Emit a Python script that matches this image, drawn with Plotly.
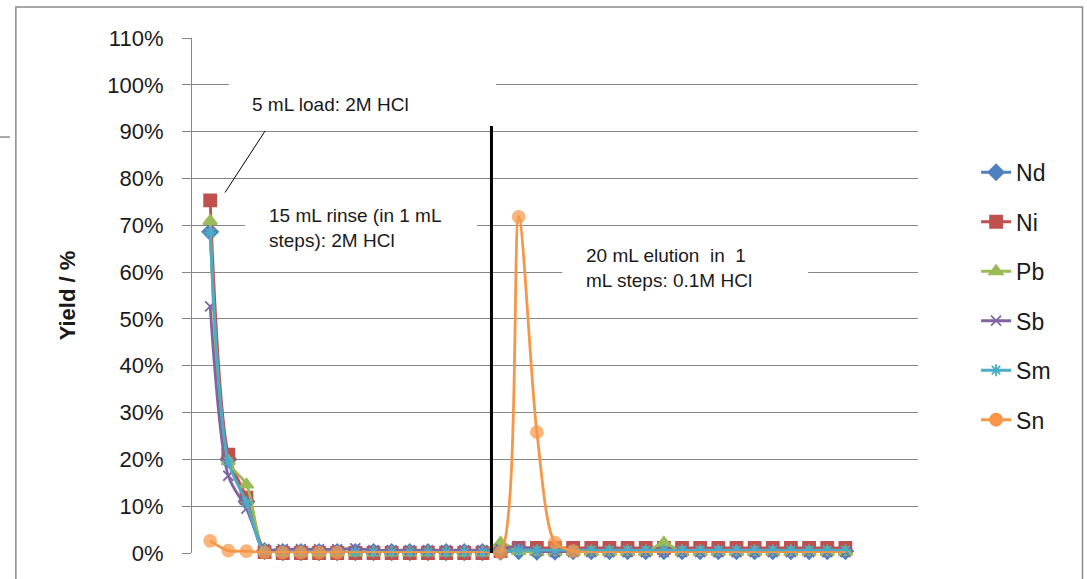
import plotly.graph_objects as go

# Fraction collected: 1 = load, 2-16 = rinse steps, 17-36 = elution steps
fractions = list(range(1, 37))

nd = [0.686, 0.200, 0.110, 0.004, 0.002, 0.002, 0.002, 0.002, 0.002, 0.002,
      0.002, 0.002, 0.002, 0.002, 0.002, 0.002, 0.003, 0.004, 0.003, 0.003,
      0.004, 0.004, 0.004, 0.004, 0.004, 0.004, 0.004, 0.004, 0.004, 0.004,
      0.004, 0.004, 0.004, 0.004, 0.004, 0.004]
ni = [0.753, 0.210, 0.118, 0.002, 0.000, 0.000, 0.000, 0.000, 0.000, 0.000,
      0.000, 0.000, 0.000, 0.000, 0.000, 0.000, 0.004, 0.011, 0.011, 0.011,
      0.011, 0.011, 0.011, 0.011, 0.011, 0.011, 0.011, 0.011, 0.011, 0.011,
      0.011, 0.011, 0.011, 0.011, 0.011, 0.011]
pb = [0.709, 0.196, 0.146, 0.004, 0.001, 0.001, 0.001, 0.001, 0.001, 0.001,
      0.001, 0.001, 0.001, 0.001, 0.001, 0.001, 0.022, 0.004, 0.002, 0.002,
      0.002, 0.002, 0.002, 0.002, 0.002, 0.022, 0.002, 0.002, 0.002, 0.002,
      0.002, 0.002, 0.002, 0.002, 0.002, 0.002]
sb = [0.527, 0.165, 0.095, 0.009, 0.008, 0.008, 0.008, 0.008, 0.010, 0.006,
      0.006, 0.006, 0.006, 0.006, 0.006, 0.006, 0.008, 0.015, 0.004, 0.002,
      0.002, 0.002, 0.002, 0.002, 0.002, 0.002, 0.002, 0.002, 0.002, 0.002,
      0.002, 0.002, 0.002, 0.002, 0.002, 0.002]
sm = [0.684, 0.195, 0.108, 0.003, 0.002, 0.002, 0.002, 0.002, 0.002, 0.002,
      0.002, 0.002, 0.002, 0.002, 0.002, 0.002, 0.004, 0.006, 0.006, 0.006,
      0.006, 0.006, 0.006, 0.006, 0.006, 0.006, 0.006, 0.006, 0.006, 0.006,
      0.006, 0.006, 0.006, 0.006, 0.006, 0.006]
sn = [0.026, 0.005, 0.004, 0.001, 0.001, 0.001, 0.001, 0.001, 0.001, 0.001,
      0.001, 0.001, 0.001, 0.001, 0.001, 0.001, 0.001, 0.718, 0.258, 0.022,
      0.004, 0.001, 0.001, 0.001, 0.001, 0.001, 0.001, 0.001, 0.001, 0.001,
      0.001, 0.001, 0.001, 0.001, 0.001, 0.001]

# Sn fractions that carry a visible marker
sn_marked = set(range(1, 9)) | set(range(17, 22))

y_ticks = [i / 10 for i in range(0, 12)]

series = [
    ("Nd", nd, "#4F81BD", "diamond", 12),
    ("Ni", ni, "#C0504D", "square", 12),
    ("Pb", pb, "#9BBB59", "triangle-up", 12),
    ("Sb", sb, "#8064A2", "x-thin-open", 10),
    ("Sm", sm, "#4BACC6", "asterisk-open", 10),
    ("Sn", sn, "#F79646", "circle", 12),
]

FONT = "Liberation Sans, Arial, sans-serif"
GRID = "#878787"

fig = go.Figure()
for name, vals, color, symbol, size in series:
    line = dict(color=color, width=2.8, shape="spline", smoothing=0.8)
    marker = dict(symbol=symbol, size=size, color=color,
                  line=dict(color=color, width=1.8))
    if name == "Sn":
        # legend entry with a full-size marker; the data trace below hides
        # the markers on the unmarked fractions
        fig.add_trace(go.Scatter(x=[None], y=[None], name=name, legendgroup=name,
                                 mode="lines+markers", line=line, marker=marker))
        marker = dict(marker, size=[size if f in sn_marked else 0 for f in fractions])
        show = False
    else:
        show = True
    fig.add_trace(go.Scatter(
        x=fractions, y=vals, name=name, legendgroup=name, showlegend=show,
        mode="lines+markers", cliponaxis=False, line=line, marker=marker,
    ))

# White text boxes sitting over the gridlines
for x0, x1, y0, y1 in [(2.04, 16.75, 0.915, 1.05),
                       (2.92, 15.7, 0.62, 0.775),
                       (20.4, 33.95, 0.54, 0.678)]:
    fig.add_shape(type="rect", xref="x", yref="y", x0=x0, x1=x1, y0=y0, y1=y1,
                  fillcolor="white", line=dict(width=0), layer="between")

# Divider between rinse and elution
fig.add_shape(type="line", xref="x", yref="y", x0=16.5, x1=16.5, y0=0, y1=0.912,
              line=dict(color="black", width=3))
# Leader line for the load label
fig.add_shape(type="line", xref="x", yref="y", x0=4.02, x1=1.82, y0=0.901, y1=0.770,
              line=dict(color="black", width=1))

# Chart frame
fig.add_shape(type="rect", xref="paper", yref="paper",
              x0=-0.2426, x1=1.2266, y0=-0.12, y1=1.0602,
              line=dict(color="#8a8a8a", width=1.5), fillcolor="rgba(0,0,0,0)")
fig.add_shape(type="line", xref="paper", yref="paper",
              x0=-0.2646, x1=-0.2508, y0=0.8077, y1=0.8077,
              line=dict(color="#8a8a8a", width=1.5))

notes = [
    (3.2, 0.959, "5 mL load: 2M HCl"),
    (4.13, 0.694, "15 mL rinse (in 1 mL<br>steps): 2M HCl"),
    (21.6, 0.6095, "20 mL elution  in  1<br>mL steps: 0.1M HCl"),
]
for x, y, txt in notes:
    fig.add_annotation(x=x, y=y, xref="x", yref="y", text=txt, showarrow=False,
                       xanchor="left", yanchor="middle", align="left",
                       font=dict(family=FONT, size=19, color="#1a1a1a"))

fig.add_annotation(x=-0.171, y=0.5, xref="paper", yref="paper",
                   text="<b>Yield / %</b>", textangle=-90, showarrow=False,
                   xanchor="center", yanchor="middle",
                   font=dict(family=FONT, size=22, color="#1a1a1a"))

fig.update_layout(
    width=1087, height=579,
    margin=dict(l=192, r=169, t=38, b=26),
    paper_bgcolor="white", plot_bgcolor="white",
    font=dict(family=FONT, color="#1a1a1a"),
    showlegend=True,
    legend=dict(x=1.08, y=0.781, xanchor="left", yanchor="top",
                font=dict(family=FONT, size=23, color="#1a1a1a"),
                tracegroupgap=16.6, bgcolor="rgba(0,0,0,0)"),
    xaxis=dict(range=[0, 40], showgrid=False, zeroline=False,
               showticklabels=False, ticks="", showline=False),
    yaxis=dict(range=[0, 1.1], tickvals=y_ticks, tickformat=".0%",
               showgrid=True, gridcolor=GRID, gridwidth=1.2,
               zeroline=False, showline=True, linecolor=GRID, linewidth=1.2,
               ticks="outside", ticklen=9, tickcolor=GRID, tickwidth=1.2,
               ticklabelstandoff=14,
               tickfont=dict(family=FONT, size=22, color="#1a1a1a")),
)

fig.write_html("out.html")
